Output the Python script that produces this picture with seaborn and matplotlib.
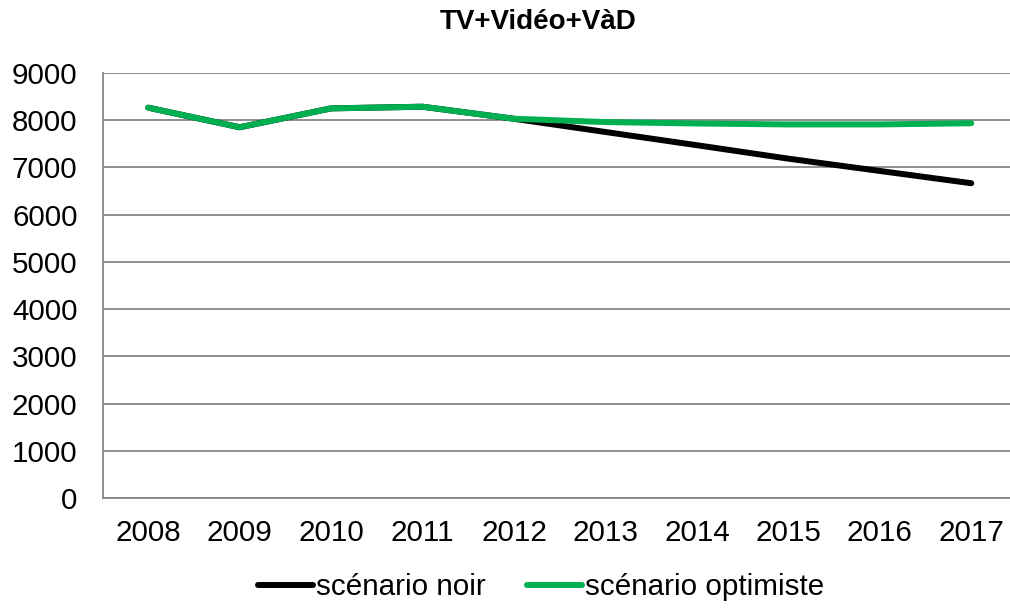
import matplotlib
matplotlib.use("Agg")
import matplotlib.pyplot as plt
import pandas as pd
import seaborn as sns

# ---------------------------------------------------------------------------
# Data
# ---------------------------------------------------------------------------
YEARS = [2008, 2009, 2010, 2011, 2012, 2013, 2014, 2015, 2016, 2017]
NOIR = [8265, 7850, 8250, 8285, 8030, 7750, 7470, 7185, 6925, 6665]
OPTIMISTE = [8265, 7850, 8250, 8285, 8030, 7960, 7930, 7910, 7910, 7935]
SERIES = ["scénario noir", "scénario optimiste"]
COLORS = ["#000000", "#00B050"]
TITLE = "TV+Vidéo+VàD"

df = pd.concat([
    pd.DataFrame({"year": YEARS, "value": NOIR, "serie": SERIES[0]}),
    pd.DataFrame({"year": YEARS, "value": OPTIMISTE, "serie": SERIES[1]}),
])

sns.set_theme(style="white")
plt.rcParams["font.family"] = ["Liberation Sans", "DejaVu Sans"]

FS = 21.3

fig = plt.figure(figsize=(10.1, 6.09), dpi=100)
ax = fig.add_axes([0.1015, 0.1823, 0.9054, 0.6979])

sns.lineplot(
    data=df, x="year", y="value", hue="serie", hue_order=SERIES,
    palette=dict(zip(SERIES, COLORS)), linewidth=4.3, ax=ax,
    legend=False, solid_capstyle="round",
)

ax.set_xlim(YEARS[0] - 0.5, YEARS[-1] + 0.5)
ax.set_ylim(0, 9000)
ax.set_yticks(range(0, 9001, 1000))
ax.set_xticks(YEARS)
ax.set_xticklabels([str(y) for y in YEARS])
ax.set_xticks([y - 0.5 for y in YEARS] + [YEARS[-1] + 0.5], minor=True)
ax.tick_params(axis="x", which="major", length=0, pad=15, labelsize=FS, colors="black")
ax.tick_params(axis="x", which="minor", direction="in", length=4.5, width=1.3, color="#868686")
ax.tick_params(axis="y", length=0, pad=18, labelsize=FS, colors="black")
ax.set_xlabel("")
ax.set_ylabel("")

ax.grid(axis="y", color="#868686", linewidth=1.3)
ax.set_axisbelow(True)
for side in ["top", "right"]:
    ax.spines[side].set_visible(False)
for side in ["left", "bottom"]:
    ax.spines[side].set_color("#868686")
    ax.spines[side].set_linewidth(1.3)

fig.text(538 / 1010, 1 - 22 / 609, TITLE, ha="center", va="center",
         fontsize=20, fontweight="bold", color="black")

handles = [plt.Line2D([], [], color=c, linewidth=4.3, solid_capstyle="round") for c in COLORS]
fig.legend(handles, SERIES, loc="center", bbox_to_anchor=(541 / 1010, 1 - 587 / 609),
           ncol=2, frameon=False, fontsize=FS, handlelength=1.86,
           handletextpad=0.1, columnspacing=1.39, labelcolor="black")

fig.savefig("out.png", dpi=100)
